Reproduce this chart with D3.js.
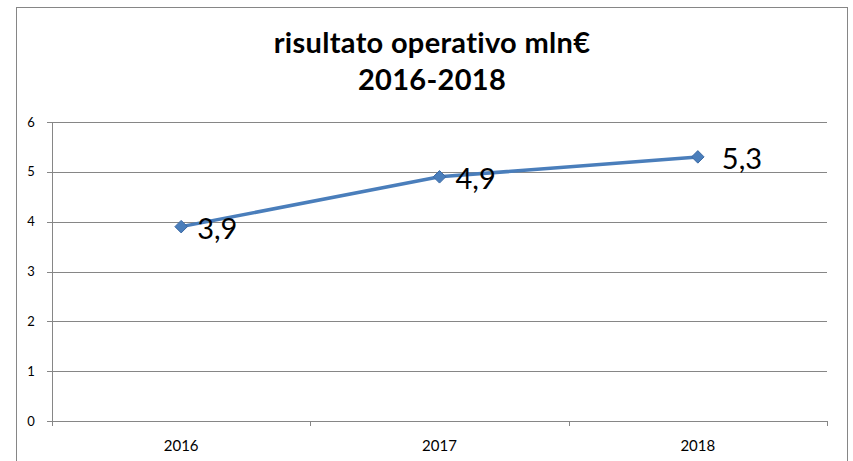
<!DOCTYPE html>
<html>
<head>
<meta charset="utf-8">
<script src="https://cdn.jsdelivr.net/npm/d3@7"></script>
<style>
  body { margin: 0; background: #fff; }
  text { font-family: Lato, "Open Sans", sans-serif; }
</style>
</head>
<body>
<script>
// chart data
var years = ["2016", "2017", "2018"];
var values = [3.9, 4.9, 5.3];
var valueLabels = ["3,9", "4,9", "5,3"];
var yTicks = [0, 1, 2, 3, 4, 5, 6];
var titleLines = ["risultato operativo mln€", "2016-2018"];

var width = 853, height = 461;
var margin = { left: 52, right: 26, top: 122, bottom: 40 };

var svg = d3.select("body").append("svg")
    .attr("width", width)
    .attr("height", height);

// outer chart border (bottom edge is cut off)
svg.append("rect")
    .attr("x", 16.5).attr("y", 7.5)
    .attr("width", 831).attr("height", 470)
    .attr("fill", "none")
    .attr("stroke", "#868686");

var x = d3.scaleBand().domain(years).range([margin.left, width - margin.right]);
var y = d3.scaleLinear().domain([0, 6]).range([height - margin.bottom, margin.top]);

// gridlines
svg.append("g").selectAll("line").data(yTicks)
    .enter().append("line")
    .attr("x1", margin.left - 5)
    .attr("x2", width - margin.right)
    .attr("y1", function(d) { return Math.round(y(d)) + 0.5; })
    .attr("y2", function(d) { return Math.round(y(d)) + 0.5; })
    .attr("stroke", "#868686");

// y axis line
svg.append("line")
    .attr("x1", margin.left + 0.5).attr("x2", margin.left + 0.5)
    .attr("y1", y(6)).attr("y2", y(0) + 5)
    .attr("stroke", "#868686");

// y labels
svg.append("g").selectAll("text").data(yTicks)
    .enter().append("text")
    .attr("x", 31)
    .attr("y", function(d) { return y(d); })
    .attr("dy", "0.35em")
    .attr("text-anchor", "middle")
    .attr("font-size", 13)
    .text(function(d) { return d; });

// x category boundary ticks
var bounds = years.map(function(d) { return x(d); }).concat([x.range()[1]]);
svg.append("g").selectAll("line").data(bounds.slice(1))
    .enter().append("line")
    .attr("x1", function(d) { return Math.round(d) + 0.5; })
    .attr("x2", function(d) { return Math.round(d) + 0.5; })
    .attr("y1", y(0)).attr("y2", y(0) + 5)
    .attr("stroke", "#868686");

// x labels
svg.append("g").selectAll("text").data(years)
    .enter().append("text")
    .attr("x", function(d) { return x(d) + x.bandwidth() / 2; })
    .attr("y", y(0) + 25)
    .attr("dy", "0.35em")
    .attr("text-anchor", "middle")
    .attr("font-size", 15)
    .text(function(d) { return d; });

// title
svg.append("g").selectAll("text").data(titleLines)
    .enter().append("text")
    .attr("x", 432)
    .attr("y", function(d, i) { return 53 + i * 37; })
    .attr("text-anchor", "middle")
    .attr("font-size", 29)
    .attr("font-weight", "bold")
    .attr("letter-spacing", 0.3)
    .text(function(d) { return d; });

// line
var pts = years.map(function(d, i) { return [x(d) + x.bandwidth() / 2, y(values[i])]; });
svg.append("path")
    .attr("d", d3.line()(pts))
    .attr("fill", "none")
    .attr("stroke", "#4a7ebb")
    .attr("stroke-width", 3.5);

// diamond markers
svg.append("g").selectAll("path").data(pts)
    .enter().append("path")
    .attr("d", d3.symbol().type(d3.symbolDiamond2).size(100))
    .attr("transform", function(d) { return "translate(" + d[0] + "," + d[1] + ")"; })
    .attr("fill", "#4a7ebb")
    .attr("stroke", "#3c6aa5");

// value labels
svg.append("g").selectAll("text").data(pts)
    .enter().append("text")
    .attr("x", function(d, i) { return d[0] + (i === 2 ? 24 : 16); })
    .attr("y", function(d) { return d[1] + 2; })
    .attr("dy", "0.35em")
    .attr("font-size", 29)
    .text(function(d, i) { return valueLabels[i]; });
</script>
</body>
</html>
